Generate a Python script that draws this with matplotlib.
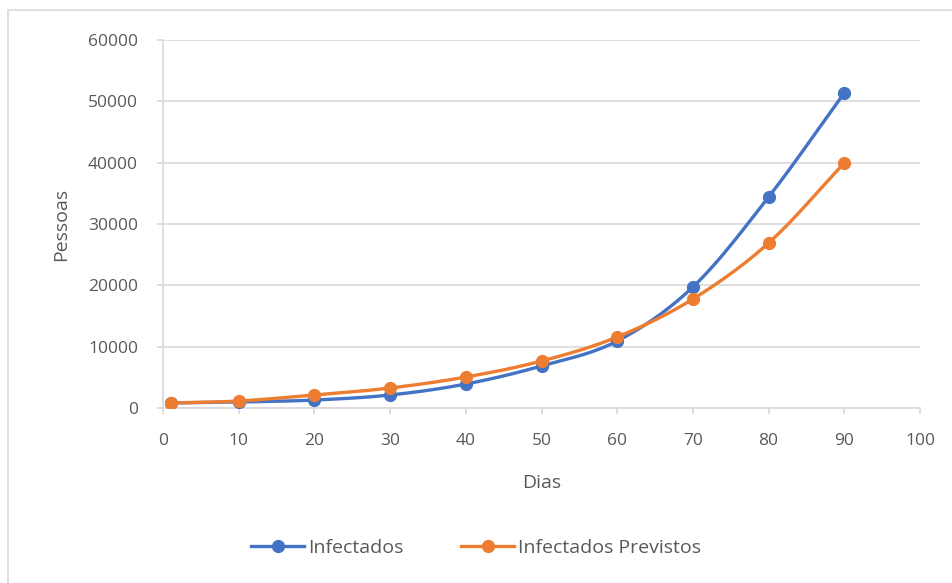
import matplotlib

matplotlib.use("Agg")
import matplotlib.pyplot as plt
import numpy as np
from matplotlib.patches import Rectangle

dias = [1, 10, 20, 30, 40, 50, 60, 70, 80, 90]
infectados = [820, 980, 1300, 2120, 3910, 6850, 10920, 19730, 34400, 51360]
previstos = [820, 1140, 2120, 3260, 5050, 7660, 11580, 17770, 26900, 39950]

BLUE = "#4472C4"
ORANGE = "#ED7D31"
TEXT = "#595959"
GRID = "#D9D9D9"


def smooth(xs, ys, steps=30):
    # Catmull-Rom curve through the points, like the spreadsheet "smoothed line"
    xs = np.asarray(xs, float)
    ys = np.asarray(ys, float)
    px = np.concatenate([[2 * xs[0] - xs[1]], xs, [2 * xs[-1] - xs[-2]]])
    py = np.concatenate([[2 * ys[0] - ys[1]], ys, [2 * ys[-1] - ys[-2]]])
    out_x, out_y = [], []
    t = np.linspace(0, 1, steps)
    for i in range(1, len(px) - 2):
        for arr, out in ((px, out_x), (py, out_y)):
            p0, p1, p2, p3 = arr[i - 1 : i + 3]
            c1 = p1 + (p2 - p0) / 6
            c2 = p2 - (p3 - p1) / 6
            out.extend(
                (1 - t) ** 3 * p1
                + 3 * (1 - t) ** 2 * t * c1
                + 3 * (1 - t) * t**2 * c2
                + t**3 * p2
            )
    return out_x, out_y


plt.rcParams.update({"font.family": ["Open Sans", "DejaVu Sans"], "font.size": 12.5})

fig = plt.figure(figsize=(9.52, 5.83), dpi=100)
fig.patches.append(
    Rectangle((8 / 952, -0.01), 1.0, 1 - 10 / 583 + 0.01,
              transform=fig.transFigure, fill=False, edgecolor=GRID, linewidth=1.2)
)
ax = fig.add_axes([163 / 952, 1 - 408 / 583, (920 - 163) / 952, (408 - 40) / 583])

for ys, color, label in ((infectados, BLUE, "Infectados"),
                         (previstos, ORANGE, "Infectados Previstos")):
    sx, sy = smooth(dias, ys)
    ax.plot(sx, sy, color=color, linewidth=2.4, solid_capstyle="round", zorder=3)
    ax.plot(dias, ys, "o", color=color, markersize=8.5, zorder=4)
    ax.plot([], [], "-o", color=color, linewidth=2.4, markersize=8.5, label=label)

ax.set_xlim(0, 100)
ax.set_ylim(0, 60000)
ax.set_xticks(range(0, 101, 10))
ax.set_yticks(range(0, 60001, 10000))
ax.yaxis.grid(True, color=GRID, linewidth=1.2)
ax.set_axisbelow(True)
for side in ("top", "right"):
    ax.spines[side].set_visible(False)
for side in ("left", "bottom"):
    ax.spines[side].set_color(GRID)
    ax.spines[side].set_linewidth(1.2)
ax.tick_params(colors=TEXT, labelsize=12.5, length=4, width=1.2, color=GRID)
ax.tick_params(axis="x", pad=14)
ax.tick_params(axis="y", pad=14)

ax.set_xlabel("Dias", color=TEXT, fontsize=14, labelpad=18)
ax.set_ylabel("Pessoas", color=TEXT, fontsize=14, labelpad=13)

fig.legend(loc="center", bbox_to_anchor=(0.5, 1 - 548 / 583), ncols=2, frameon=False,
           fontsize=14, labelcolor=TEXT, handlelength=2.7, columnspacing=3.0,
           handletextpad=0.2)

fig.savefig("out.png", dpi=100)
